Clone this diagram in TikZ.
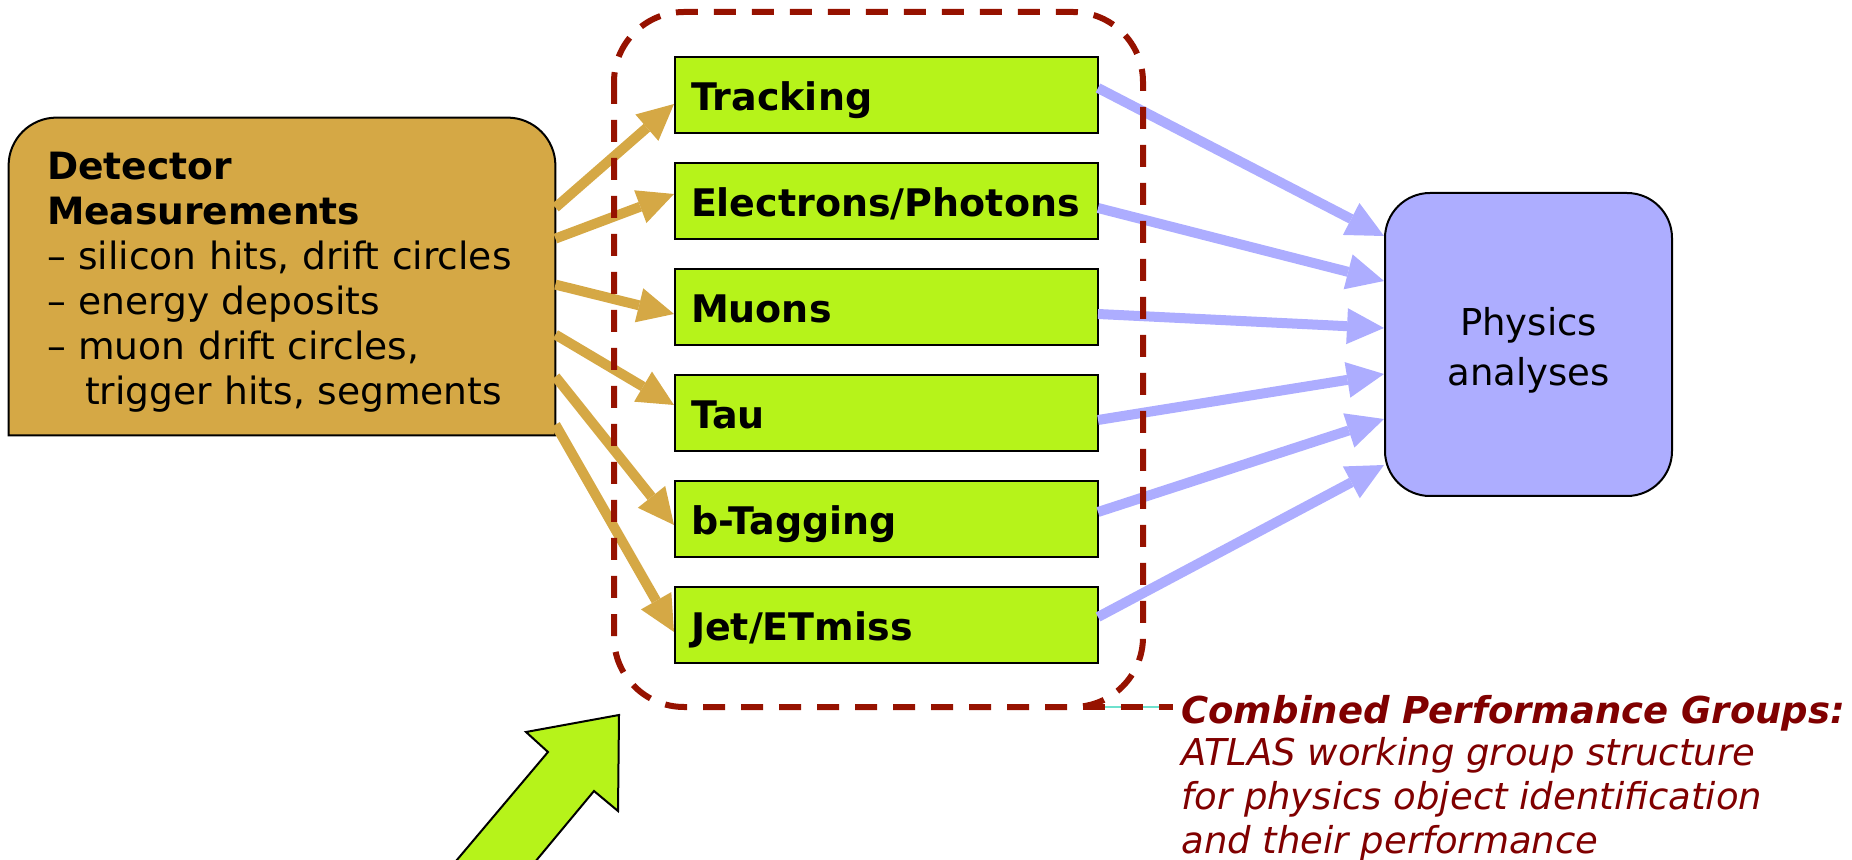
\documentclass[tikz,border=0pt]{standalone}
\usepackage{fontspec}
\setmainfont{DejaVu Sans}
\usetikzlibrary{arrows.meta}
\usetikzlibrary{calc}
\usetikzlibrary{backgrounds}
\definecolor{detgold}{RGB}{213,168,69}
\definecolor{cpgreen}{RGB}{182,243,26}
\definecolor{physblue}{RGB}{173,173,255}
\definecolor{framered}{RGB}{150,18,0}
\definecolor{notered}{RGB}{128,0,0}
\definecolor{leadteal}{RGB}{110,225,205}
\tikzset{
  detbox/.style={minimum width=273pt,minimum height=158.5pt,inner xsep=19pt,inner ysep=0pt,
    text width=235pt,align=left,font=\fontsize{18.8pt}{22.5pt}\selectfont},
  detshape/.style={fill=detgold,draw=black,line width=1pt},
  cpbox/.style={draw=black,line width=1pt,fill=cpgreen,minimum width=211.5pt,minimum height=38pt,
    inner xsep=8pt,text width=195.5pt,text height=15.5pt,text depth=0pt,align=left,
    font=\fontsize{19pt}{23pt}\selectfont\bfseries},
  physbox/.style={draw=black,line width=1pt,fill=physblue,rounded corners=22.5pt,
    minimum width=143.5pt,minimum height=151.5pt,align=center,font=\fontsize{18.5pt}{25pt}\selectfont},
  feed/.style={detgold,line width=5pt,-{Triangle[length=18pt,width=17.5pt,line width=0pt]}},
  result/.style={physblue,line width=5pt,-{Triangle[length=18.5pt,width=18pt,line width=0pt]}},
  cpframe/.style={framered,line width=3pt,dash pattern=on 11pt off 8pt,rounded corners=35pt},
  bigarrow/.style={fill=cpgreen,draw=black,line width=1pt,line join=miter},
  cpgtitle/.style={inner sep=0pt,text=notered,font=\fontsize{18.5pt}{22pt}\selectfont\bfseries\itshape},
  cpgnote/.style={inner sep=0pt,text=notered,align=left,font=\fontsize{18.5pt}{22pt}\selectfont\itshape}
}

\begin{document}
\begin{tikzpicture}[x=0.5pt,y=-0.5pt]
    \useasboundingbox (0,0) rectangle (1852,860);

    \node[detbox] (det) at (282,276.5) {\rule{0pt}{19.5pt}\textbf{Detector}\\ \textbf{Measurements}\\ -- silicon hits, drift circles\\ -- energy deposits\\ -- muon drift circles,\\ \hspace*{19pt}trigger hits, segments};
    \begin{scope}[on background layer]
      \draw[detshape] (det.south west) -- ([yshift=-24pt]det.north west) arc[start angle=180,end angle=90,radius=24pt]
        -- ([xshift=-24pt]det.north east) arc[start angle=90,end angle=0,radius=24pt] -- (det.south east) -- cycle;
    \end{scope}

    \node[cpbox] (trk) at (886.5,95) {Tracking};
    \node[cpbox] (egam) at (886.5,201) {Electrons/Photons};
    \node[cpbox] (mu) at (886.5,307) {Muons};
    \node[cpbox] (tau) at (886.5,413) {Tau};
    \node[cpbox] (btag) at (886.5,519) {b-Tagging};
    \node[cpbox] (jet) at (886.5,625) {Jet/ETmiss};

    \node[physbox] (phys) at (1528.5,344.5) {\rule{0pt}{20pt}Physics\\analyses};

    \foreach \dy/\tgt/\ty in {90/trk/9,121/egam/-7,167/mu/7,217/tau/-8,259/btag/6,307/jet/7}
      \draw[feed] ($(det.north east)+(0,\dy)$) -- ($(\tgt.west)+(0,\ty)$);
    \foreach \src/\sy/\py in {trk/-7/44,egam/7/89,mu/7/136,tau/7/182,btag/-7/227,jet/-8/273}
      \draw[result] ($(\src.east)+(-1,\sy)$) -- ($(phys.north west)+(0,\py)$);

    \draw[cpframe] (614,12) rectangle (1143,707);

    \node[cpgtitle,anchor=west] (cpgt) at (1181,713) {Combined Performance Groups:};
    \node[cpgnote,anchor=north west] (cpgb) at (1181,737) {ATLAS working group structure\\for physics object identification\\and their performance};
    \coordinate (cpgfoot) at (1083,707);
    \draw[leadteal,line width=0.6pt] (cpgfoot) -- ($(cpgfoot -| cpgt.west)+(-8,0)$);
    \draw[framered,line width=3pt,dash pattern=on 11pt off 8pt] (cpgfoot) -- ($(cpgfoot -| cpgt.west)+(-8,0)$);

    \draw[bigarrow] (440,880) -- (548,752) -- (526,732) -- (619,715) -- (618,811) -- (594,791) -- (520,880) -- cycle;
  \end{tikzpicture}
\end{document}
